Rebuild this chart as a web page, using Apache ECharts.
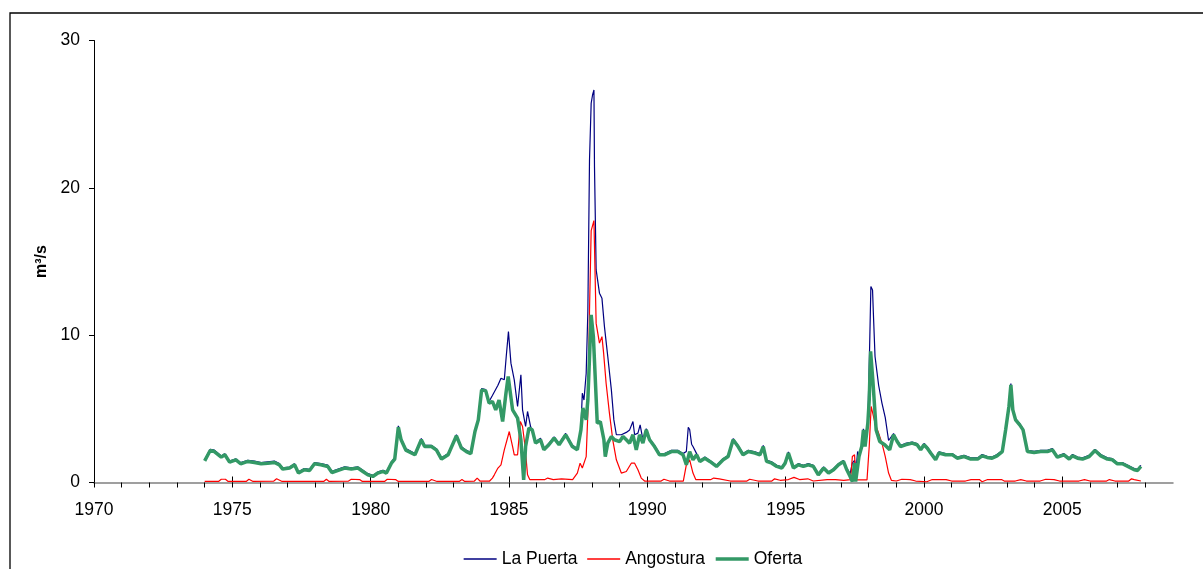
<!DOCTYPE html>
<html>
<head>
<meta charset="utf-8">
<script src="https://cdn.jsdelivr.net/npm/echarts@6.0.0/dist/echarts.min.js"></script>
<style>
html,body{margin:0;padding:0;background:#fff;}
#chart{width:1203px;height:569px;}
</style>
</head>
<body>
<div id="chart"></div>
<script>
// Tick labels
const yearTicks = [1970,1971,1972,1973,1974,1975,1976,1977,1978,1979,1980,1981,1982,1983,1984,1985,1986,1987,1988,1989,1990,1991,1992,1993,1994,1995,1996,1997,1998,1999,2000,2001,2002,2003,2004,2005,2006,2007,2008];
const yearLabels = [1970,1975,1980,1985,1990,1995,2000,2005];
const seriesNames = ['La Puerta','Angostura','Oferta'];

// [year, m3/s]
const laPuerta = [[1974.0,1.55],[1974.2,2.25],[1974.35,2.2],[1974.6,1.8],[1974.73,1.95],[1974.9,1.45],[1975.13,1.6],[1975.3,1.35],[1975.56,1.5],[1975.8,1.45],[1976.04,1.35],[1976.28,1.4],[1976.52,1.45],[1976.7,1.28],[1976.82,1.0],[1977.07,1.05],[1977.25,1.28],[1977.39,0.72],[1977.6,0.95],[1977.79,0.9],[1977.97,1.35],[1978.2,1.28],[1978.45,1.18],[1978.6,0.76],[1978.8,0.9],[1979.06,1.06],[1979.3,1.0],[1979.54,1.06],[1979.72,0.83],[1979.9,0.6],[1980.08,0.48],[1980.26,0.72],[1980.45,0.83],[1980.57,0.72],[1980.75,1.4],[1980.87,1.68],[1981.0,3.85],[1981.1,2.98],[1981.27,2.3],[1981.6,1.96],[1981.83,2.98],[1981.95,2.52],[1982.2,2.52],[1982.38,2.28],[1982.56,1.68],[1982.8,1.96],[1983.1,3.25],[1983.28,2.42],[1983.46,2.18],[1983.62,2.04],[1983.77,3.55],[1983.89,4.33],[1984.01,6.37],[1984.16,6.3],[1984.28,5.5],[1984.4,5.9],[1984.47,5.95],[1984.6,6.6],[1984.71,7.08],[1984.83,6.97],[1984.9,8.55],[1984.98,10.24],[1985.07,8.1],[1985.19,6.97],[1985.31,5.16],[1985.43,7.31],[1985.49,4.93],[1985.6,3.8],[1985.67,4.82],[1985.78,3.8],[1985.84,3.91],[1985.96,2.78],[1986.14,3.0],[1986.26,2.3],[1986.44,2.65],[1986.63,3.1],[1986.81,2.65],[1987.05,3.33],[1987.29,2.52],[1987.47,2.3],[1987.6,3.7],[1987.65,6.06],[1987.71,5.6],[1987.79,7.42],[1987.85,11.6],[1987.91,21.9],[1987.97,25.74],[1988.02,26.3],[1988.07,26.64],[1988.09,21.44],[1988.15,14.43],[1988.27,12.85],[1988.36,12.5],[1988.45,10.58],[1988.57,8.55],[1988.7,6.29],[1988.79,4.25],[1988.88,3.24],[1989.06,3.24],[1989.24,3.4],[1989.36,3.57],[1989.48,4.14],[1989.54,3.24],[1989.66,3.35],[1989.74,3.91],[1989.84,2.9],[1989.96,3.65],[1990.08,2.98],[1990.26,2.52],[1990.44,1.96],[1990.62,1.96],[1990.87,2.18],[1991.1,2.18],[1991.29,1.96],[1991.41,2.1],[1991.48,3.75],[1991.53,3.6],[1991.6,2.6],[1991.65,2.44],[1991.78,1.96],[1991.9,1.5],[1992.08,1.73],[1992.26,1.5],[1992.5,1.17],[1992.74,1.62],[1992.92,1.84],[1993.1,2.98],[1993.28,2.52],[1993.46,1.96],[1993.65,2.18],[1993.89,2.08],[1994.07,1.96],[1994.19,2.52],[1994.31,1.5],[1994.5,1.4],[1994.68,1.17],[1994.86,1.06],[1994.98,1.4],[1995.1,2.08],[1995.28,1.06],[1995.46,1.28],[1995.64,1.17],[1995.82,1.28],[1996.0,1.17],[1996.18,0.6],[1996.37,1.06],[1996.55,0.72],[1996.73,0.94],[1996.91,1.28],[1997.09,1.5],[1997.21,0.94],[1997.33,0.6],[1997.41,1.31],[1997.49,1.5],[1997.55,1.0],[1997.6,2.1],[1997.65,1.84],[1997.75,2.52],[1997.81,3.65],[1997.87,2.52],[1997.97,4.1],[1998.03,8.78],[1998.08,13.3],[1998.14,13.07],[1998.17,11.49],[1998.23,8.55],[1998.36,6.6],[1998.48,5.39],[1998.6,4.4],[1998.72,2.85],[1998.9,3.32],[1999.03,2.86],[1999.15,2.52],[1999.33,2.65],[1999.57,2.75],[1999.75,2.65],[1999.88,2.3],[2000.0,2.65],[2000.12,2.42],[2000.24,2.08],[2000.42,1.62],[2000.54,2.08],[2000.78,1.96],[2001.03,1.96],[2001.2,1.73],[2001.45,1.84],[2001.69,1.67],[2001.94,1.67],[2002.1,1.9],[2002.28,1.78],[2002.46,1.73],[2002.64,1.9],[2002.83,2.18],[2002.95,3.65],[2003.07,5.25],[2003.14,6.72],[2003.21,5.0],[2003.31,4.33],[2003.46,4.0],[2003.58,3.65],[2003.74,2.18],[2003.98,2.12],[2004.22,2.18],[2004.46,2.18],[2004.64,2.3],[2004.82,1.8],[2005.06,1.96],[2005.25,1.67],[2005.37,1.9],[2005.55,1.73],[2005.73,1.67],[2005.97,1.84],[2006.18,2.25],[2006.39,1.9],[2006.63,1.67],[2006.81,1.62],[2006.99,1.35],[2007.17,1.35],[2007.42,1.12],[2007.6,0.94],[2007.72,0.9],[2007.84,1.17]];

const angostura = [[1974.0,0.07],[1974.5,0.07],[1974.6,0.22],[1974.75,0.22],[1974.85,0.07],[1975.5,0.07],[1975.6,0.22],[1975.75,0.07],[1976.5,0.1],[1976.6,0.25],[1976.8,0.07],[1977.4,0.07],[1977.45,0.2],[1977.5,0.07],[1978.3,0.07],[1978.4,0.22],[1978.5,0.07],[1979.2,0.1],[1979.3,0.22],[1979.6,0.2],[1979.7,0.07],[1980.5,0.07],[1980.6,0.22],[1980.9,0.2],[1981.0,0.07],[1982.1,0.07],[1982.2,0.2],[1982.4,0.07],[1983.2,0.07],[1983.3,0.2],[1983.4,0.07],[1983.75,0.1],[1983.85,0.3],[1983.95,0.1],[1984.3,0.1],[1984.4,0.3],[1984.47,0.52],[1984.6,0.98],[1984.71,1.2],[1984.83,2.22],[1985.01,3.46],[1985.13,2.44],[1985.19,1.88],[1985.31,1.88],[1985.41,4.14],[1985.49,3.8],[1985.58,2.44],[1985.67,0.52],[1985.75,0.2],[1986.3,0.2],[1986.4,0.3],[1986.6,0.2],[1986.9,0.25],[1987.3,0.2],[1987.47,0.64],[1987.57,1.31],[1987.65,0.98],[1987.79,1.76],[1987.85,4.71],[1987.91,11.7],[1987.97,17.1],[1988.07,17.78],[1988.15,10.8],[1988.27,9.46],[1988.36,9.9],[1988.42,8.78],[1988.51,6.74],[1988.63,4.71],[1988.75,2.9],[1988.88,1.54],[1989.06,0.64],[1989.24,0.75],[1989.42,1.31],[1989.54,1.31],[1989.66,0.86],[1989.78,0.3],[1989.9,0.1],[1990.5,0.1],[1990.6,0.22],[1990.8,0.1],[1991.3,0.1],[1991.41,1.2],[1991.53,1.54],[1991.65,0.64],[1991.75,0.2],[1992.3,0.2],[1992.4,0.3],[1992.6,0.25],[1993.0,0.1],[1993.6,0.1],[1993.7,0.22],[1994.0,0.1],[1994.5,0.1],[1994.6,0.25],[1994.8,0.15],[1995.1,0.2],[1995.3,0.35],[1995.5,0.2],[1995.8,0.25],[1996.0,0.1],[1996.5,0.2],[1996.8,0.2],[1997.1,0.15],[1997.35,0.2],[1997.41,1.76],[1997.49,1.88],[1997.53,0.18],[1997.94,0.18],[1998.02,2.44],[1998.09,5.16],[1998.12,5.27],[1998.23,4.03],[1998.36,3.35],[1998.48,2.67],[1998.6,1.76],[1998.72,0.64],[1998.82,0.15],[1999.0,0.1],[1999.2,0.22],[1999.5,0.2],[1999.7,0.1],[2000.1,0.05],[2000.3,0.2],[2000.8,0.2],[2001.0,0.1],[2001.5,0.1],[2001.7,0.2],[2002.0,0.2],[2002.1,0.05],[2002.3,0.2],[2002.8,0.2],[2002.9,0.1],[2003.3,0.1],[2003.5,0.2],[2003.7,0.1],[2004.2,0.1],[2004.4,0.22],[2004.7,0.2],[2004.9,0.1],[2005.6,0.1],[2005.8,0.2],[2006.0,0.1],[2006.6,0.1],[2006.7,0.2],[2006.9,0.1],[2007.4,0.1],[2007.5,0.25],[2007.6,0.2],[2007.84,0.1]];

const oferta = [[1974.0,1.47],[1974.2,2.17],[1974.35,2.1],[1974.6,1.72],[1974.73,1.88],[1974.9,1.38],[1975.13,1.54],[1975.3,1.27],[1975.56,1.43],[1975.8,1.36],[1976.04,1.27],[1976.28,1.31],[1976.52,1.36],[1976.7,1.2],[1976.82,0.91],[1977.07,0.98],[1977.25,1.2],[1977.39,0.64],[1977.6,0.86],[1977.79,0.81],[1977.97,1.27],[1978.2,1.2],[1978.45,1.09],[1978.6,0.68],[1978.8,0.81],[1979.06,0.98],[1979.3,0.91],[1979.54,0.98],[1979.72,0.75],[1979.9,0.52],[1980.08,0.41],[1980.26,0.64],[1980.45,0.75],[1980.57,0.64],[1980.75,1.31],[1980.87,1.59],[1981.0,3.76],[1981.1,2.9],[1981.27,2.2],[1981.6,1.88],[1981.83,2.9],[1981.95,2.44],[1982.2,2.44],[1982.38,2.2],[1982.56,1.59],[1982.8,1.88],[1983.1,3.17],[1983.28,2.33],[1983.46,2.1],[1983.62,1.95],[1983.77,3.46],[1983.89,4.25],[1984.01,6.29],[1984.16,6.22],[1984.28,5.39],[1984.4,5.5],[1984.52,4.93],[1984.64,5.6],[1984.77,4.14],[1984.89,6.06],[1984.97,7.2],[1985.13,4.93],[1985.31,4.37],[1985.43,2.9],[1985.53,0.18],[1985.6,2.44],[1985.72,3.69],[1985.84,3.57],[1985.96,2.67],[1986.14,2.9],[1986.26,2.22],[1986.44,2.56],[1986.63,3.01],[1986.81,2.56],[1987.05,3.24],[1987.29,2.44],[1987.47,2.22],[1987.6,3.57],[1987.67,5.05],[1987.79,4.25],[1987.85,5.6],[1987.92,9.0],[1987.97,11.38],[1988.05,9.9],[1988.12,6.97],[1988.19,4.03],[1988.3,4.14],[1988.43,2.9],[1988.48,1.76],[1988.57,2.67],[1988.7,3.12],[1988.81,2.9],[1989.0,2.78],[1989.12,3.12],[1989.24,2.9],[1989.36,2.67],[1989.48,3.24],[1989.6,2.22],[1989.72,3.24],[1989.84,2.67],[1989.96,3.57],[1990.08,2.9],[1990.26,2.44],[1990.44,1.88],[1990.62,1.88],[1990.87,2.1],[1991.1,2.1],[1991.29,1.88],[1991.41,1.2],[1991.53,2.1],[1991.65,1.54],[1991.78,1.88],[1991.9,1.43],[1992.08,1.65],[1992.26,1.43],[1992.5,1.09],[1992.74,1.54],[1992.92,1.76],[1993.1,2.9],[1993.28,2.44],[1993.46,1.88],[1993.65,2.1],[1993.89,2.0],[1994.07,1.88],[1994.19,2.44],[1994.31,1.43],[1994.5,1.31],[1994.68,1.09],[1994.86,0.98],[1994.98,1.31],[1995.1,2.0],[1995.28,0.98],[1995.46,1.2],[1995.64,1.09],[1995.82,1.2],[1996.0,1.09],[1996.18,0.52],[1996.37,0.98],[1996.55,0.64],[1996.73,0.86],[1996.91,1.2],[1997.09,1.43],[1997.21,0.86],[1997.33,0.41],[1997.41,0.07],[1997.49,1.31],[1997.53,0.07],[1997.65,1.76],[1997.75,2.44],[1997.81,3.57],[1997.87,2.44],[1997.97,4.03],[1998.02,5.6],[1998.07,8.9],[1998.15,6.97],[1998.27,3.57],[1998.4,2.78],[1998.58,2.56],[1998.76,2.22],[1998.9,3.24],[1999.03,2.78],[1999.15,2.44],[1999.33,2.56],[1999.57,2.67],[1999.75,2.56],[1999.88,2.22],[2000.0,2.56],[2000.12,2.33],[2000.24,2.0],[2000.42,1.54],[2000.54,2.0],[2000.78,1.88],[2001.03,1.88],[2001.2,1.65],[2001.45,1.76],[2001.69,1.59],[2001.94,1.59],[2002.1,1.81],[2002.28,1.7],[2002.46,1.65],[2002.64,1.81],[2002.83,2.1],[2002.95,3.57],[2003.07,5.16],[2003.14,6.63],[2003.21,4.93],[2003.31,4.25],[2003.46,3.91],[2003.58,3.57],[2003.74,2.1],[2003.98,2.04],[2004.22,2.1],[2004.46,2.1],[2004.64,2.22],[2004.82,1.72],[2005.06,1.88],[2005.25,1.59],[2005.37,1.81],[2005.55,1.65],[2005.73,1.59],[2005.97,1.76],[2006.18,2.17],[2006.39,1.81],[2006.63,1.59],[2006.81,1.54],[2006.99,1.27],[2007.17,1.27],[2007.42,1.04],[2007.6,0.86],[2007.72,0.82],[2007.84,1.09]];

const FONT = '"Liberation Sans", Arial, sans-serif';
const chart = echarts.init(document.getElementById('chart'), null, {renderer: 'canvas'});
chart.setOption({
  animation: false,
  backgroundColor: '#ffffff',
  textStyle: {fontFamily: FONT},
  graphic: [{
    type: 'rect', left: 7.5, top: 10.5, z: -1, silent: true,
    shape: {x: 0, y: 0, width: 1400, height: 800},
    style: {fill: 'none', stroke: '#000', lineWidth: 1.3}
  }],
  grid: {left: 94, right: 30, top: 40.5, bottom: 86.5, containLabel: false},
  legend: {
    data: [
      {name: seriesNames[0], lineStyle: {width: 1.3}},
      {name: seriesNames[1], lineStyle: {width: 1.3}},
      {name: seriesNames[2], lineStyle: {width: 3.5}}
    ],
    left: 458, top: 545,
    itemWidth: 33, itemHeight: 20, itemGap: 9,
    itemStyle: {opacity: 0},
    textStyle: {fontSize: 17.5, color: '#000', fontFamily: FONT}
  },
  xAxis: [{
    type: 'value', min: 1970, max: 2009,
    axisLine: {show: true, lineStyle: {color: '#808080', width: 1.5}},
    axisTick: {show: true, customValues: yearTicks, length: 5, lineStyle: {color: '#000', width: 1}},
    axisLabel: {customValues: yearLabels, fontSize: 17.5, color: '#000', margin: 19, fontFamily: FONT,
      formatter: function (v) { return String(Math.round(v)); }},
    splitLine: {show: false}
  }, {
    type: 'value', min: 1970, max: 2009, position: 'bottom',
    axisLine: {show: false},
    axisTick: {show: true, inside: true, customValues: yearLabels, length: 6, lineStyle: {color: '#000', width: 1}},
    axisLabel: {show: false},
    splitLine: {show: false}
  }],
  yAxis: {
    type: 'value', min: 0, max: 30, interval: 10,
    name: 'm³/s', nameLocation: 'middle', nameGap: 44, nameRotate: 90,
    nameTextStyle: {fontSize: 16, fontWeight: 'bold', color: '#000', fontFamily: FONT},
    axisLine: {show: true, lineStyle: {color: '#000', width: 1}},
    axisTick: {show: true, length: 5, lineStyle: {color: '#000'}},
    axisLabel: {fontSize: 17.5, color: '#000', margin: 14, fontFamily: FONT},
    splitLine: {show: false}
  },
  series: [{
    name: seriesNames[0], type: 'line', data: laPuerta, showSymbol: false, symbol: 'none',
    lineStyle: {color: '#000080', width: 1.2}, itemStyle: {color: '#000080'}, z: 2
  }, {
    name: seriesNames[1], type: 'line', data: angostura, showSymbol: false, symbol: 'none',
    lineStyle: {color: '#ff0000', width: 1.2}, itemStyle: {color: '#ff0000'}, z: 3
  }, {
    name: seriesNames[2], type: 'line', data: oferta, showSymbol: false, symbol: 'none',
    lineStyle: {color: '#339966', width: 3.5}, itemStyle: {color: '#339966'}, z: 4
  }]
});
</script>
</body>
</html>
